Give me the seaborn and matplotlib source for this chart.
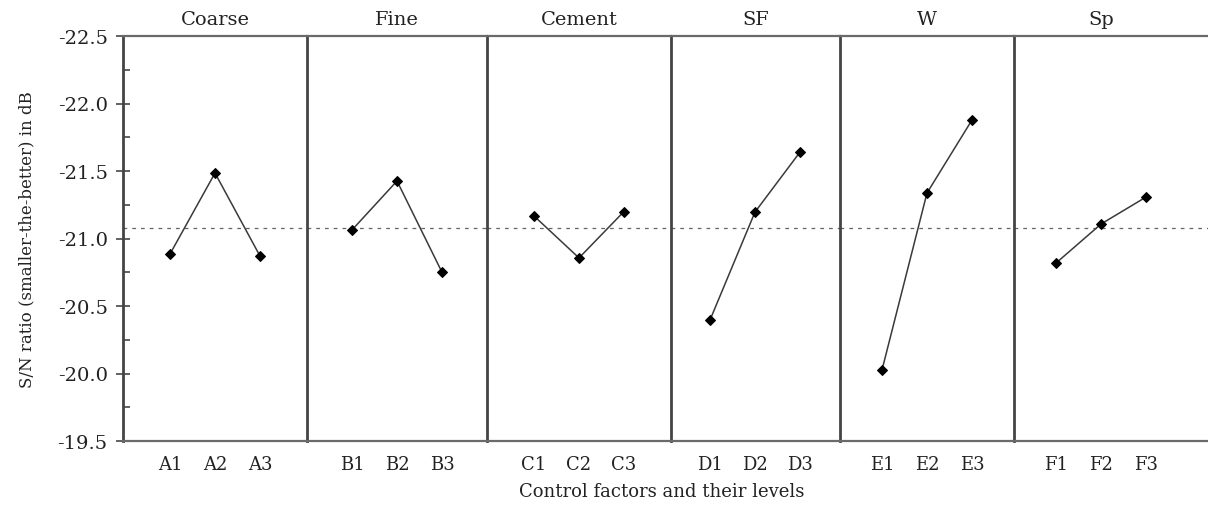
import numpy as np
import pandas as pd
import matplotlib
matplotlib.use("Agg")
import matplotlib.pyplot as plt
from matplotlib.ticker import FixedLocator, FormatStrFormatter
import seaborn as sns

# Main-effects data: S/N ratio (dB) for each control factor at three levels
factors = ["Coarse", "Fine", "Cement", "SF", "W", "Sp"]
level_prefix = ["A", "B", "C", "D", "E", "F"]
coarse = [-20.885, -21.485, -20.870]
fine = [-21.063, -21.426, -20.750]
cement = [-21.167, -20.856, -21.200]
sf = [-20.396, -21.196, -21.640]
water = [-20.026, -21.337, -21.878]
sp = [-20.818, -21.107, -21.307]
series = [coarse, fine, cement, sf, water, sp]
y_ticks = [-22.5, -22.0, -21.5, -21.0, -20.5, -20.0, -19.5]

rows = []
for name, prefix, vals in zip(factors, level_prefix, series):
    for i, v in enumerate(vals, start=1):
        rows.append({"factor": name, "level": i, "label": f"{prefix}{i}", "sn": v})
df = pd.DataFrame(rows)
grand_mean = df["sn"].mean()

sns.set_theme(style="white")
plt.rcParams["font.family"] = ["DejaVu Serif", "DejaVu Sans"]
plt.rcParams["axes.unicode_minus"] = False

W, H = 1208, 506
fig = plt.figure(figsize=(W / 100, H / 100), dpi=100)

# panel edges in pixels, level spacing in pixels
edges = [123, 307, 487, 671, 840, 1014, 1215]
centers = [215, 397, 579, 755, 927, 1101]
step = 45.0
top_px, bot_px = 37, 442

spine_col = "#555555"
text_col = "#222222"

for k, name in enumerate(factors):
    L, R, C = edges[k], edges[k + 1], centers[k]
    ax = fig.add_axes([L / W, 1 - bot_px / H, (R - L) / W, (bot_px - top_px) / H])
    sub = df[df["factor"] == name]
    sns.lineplot(data=sub, x="level", y="sn", ax=ax, color="#3a3a3a", lw=1.1,
                 marker="D", markersize=5, markerfacecolor="black",
                 markeredgecolor="black", legend=False)
    ax.axhline(grand_mean, color="#666666", lw=0.9, ls=(0, (3, 4)), zorder=0)
    ax.set_xlim(2 - (C - L) / step, 2 + (R - C) / step)
    ax.set_ylim(y_ticks[-1], y_ticks[0])

    ax.set_xticks([1, 2, 3])
    ax.set_xticklabels(sub["label"].tolist())
    ax.tick_params(axis="x", which="major", length=0, pad=10, labelsize=13,
                   labelcolor=text_col)
    ax.xaxis.set_minor_locator(FixedLocator([2]))
    ax.tick_params(axis="x", which="minor", bottom=True, length=4, width=1.2,
                   direction="out", color=spine_col)
    ax.set_xlabel("")
    ax.set_ylabel("")

    for s in ["top", "bottom"]:
        ax.spines[s].set_color("#6a6a6a")
        ax.spines[s].set_linewidth(1.6)
    ax.spines["left"].set_color("#444444")
    ax.spines["left"].set_linewidth(2.0)
    ax.spines["right"].set_visible(False)

    ax.text(0.5 if k < 5 else (C - L) / (R - L), 1 + 17 / (bot_px - top_px),
            name, transform=ax.transAxes, ha="center", va="center",
            fontsize=14, color=text_col)

    if k == 0:
        ax.set_yticks(y_ticks)
        ax.yaxis.set_major_formatter(FormatStrFormatter("%.1f"))
        ax.yaxis.set_minor_locator(FixedLocator(np.arange(-22.25, -19.5, 0.5)))
        ax.tick_params(axis="y", which="major", left=True, length=10, width=1.3,
                       direction="inout", color=spine_col, labelsize=14,
                       labelcolor=text_col, pad=6)
        ax.tick_params(axis="y", which="minor", left=True, length=5, width=1.3,
                       direction="in", color=spine_col)
        ax.set_ylabel("S/N ratio (smaller-the-better) in dB", fontsize=12,
                      color=text_col, labelpad=16)
    else:
        ax.set_yticks([])

fig.text(662 / W, 1 - 492 / H, "Control factors and their levels",
         ha="center", va="center", fontsize=13, color=text_col)

fig.savefig("out.png", dpi=100, facecolor="white")
